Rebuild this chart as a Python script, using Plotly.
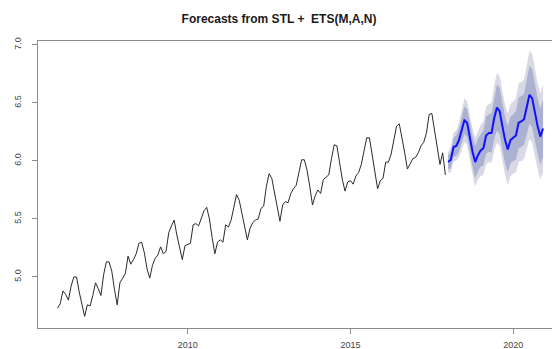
import plotly.graph_objects as go

# Historical monthly series, Jan 2006 .. Dec 2017
hist_start = 2006
hist_values = [
    4.73, 4.77, 4.88, 4.85, 4.80, 4.92, 5.00, 5.00, 4.87, 4.76, 4.66, 4.76,
    4.75, 4.84, 4.95, 4.90, 4.84, 5.02, 5.13, 5.13, 5.05, 4.89, 4.76, 4.95,
    4.99, 5.03, 5.18, 5.11, 5.15, 5.20, 5.29, 5.30, 5.21, 5.07, 4.99, 5.10,
    5.16, 5.19, 5.26, 5.20, 5.22, 5.38, 5.44, 5.49, 5.36, 5.24, 5.15, 5.27,
    5.28, 5.29, 5.45, 5.46, 5.44, 5.51, 5.57, 5.60, 5.50, 5.34, 5.20, 5.30,
    5.32, 5.30, 5.45, 5.43, 5.49, 5.60, 5.71, 5.66, 5.55, 5.44, 5.32, 5.42,
    5.47, 5.49, 5.50, 5.59, 5.61, 5.78, 5.89, 5.85, 5.72, 5.58, 5.48, 5.62,
    5.65, 5.64, 5.72, 5.76, 5.79, 5.90, 6.01, 6.01, 5.92, 5.78, 5.62, 5.70,
    5.75, 5.72, 5.84, 5.86, 5.88, 6.02, 6.14, 6.13, 5.97, 5.84, 5.74, 5.82,
    5.83, 5.80, 5.87, 5.90, 5.97, 6.10, 6.20, 6.20, 6.05, 5.88, 5.76, 5.83,
    5.85, 5.99, 5.99, 6.06, 6.19, 6.30, 6.32, 6.21, 6.07, 5.93, 5.97, 6.02,
    6.03, 6.07, 6.13, 6.16, 6.24, 6.40, 6.41, 6.25, 6.10, 5.97, 6.07, 5.88,
]

# Forecast, Jan 2018 .. Dec 2020
fc_start = 2018
fc_mean = [5.99, 6.01, 6.12, 6.13, 6.18, 6.27, 6.35, 6.33, 6.20, 6.08, 5.99, 6.05,
           6.09, 6.11, 6.22, 6.24, 6.24, 6.37, 6.46, 6.43, 6.30, 6.18, 6.10, 6.18,
           6.20, 6.22, 6.33, 6.34, 6.36, 6.46, 6.57, 6.54, 6.41, 6.30, 6.21, 6.28]
lo95 = [5.90, 5.90, 6.00, 6.00, 6.03, 6.10, 6.16, 6.14, 6.01, 5.88, 5.78, 5.84,
        5.87, 5.88, 5.97, 5.99, 5.98, 6.09, 6.16, 6.13, 6.01, 5.88, 5.79, 5.87,
        5.89, 5.90, 5.99, 6.00, 6.02, 6.10, 6.19, 6.16, 6.04, 5.93, 5.84, 5.90]
hi95 = [6.08, 6.12, 6.24, 6.26, 6.33, 6.44, 6.54, 6.52, 6.39, 6.28, 6.20, 6.26,
        6.31, 6.34, 6.47, 6.49, 6.50, 6.65, 6.76, 6.73, 6.59, 6.48, 6.41, 6.49,
        6.51, 6.54, 6.67, 6.68, 6.70, 6.82, 6.95, 6.92, 6.78, 6.67, 6.58, 6.66]
lo80 = [5.93, 5.94, 6.04, 6.04, 6.08, 6.16, 6.23, 6.21, 6.08, 5.95, 5.85, 5.91,
        5.95, 5.96, 6.06, 6.08, 6.07, 6.19, 6.26, 6.23, 6.11, 5.98, 5.90, 5.98,
        6.00, 6.01, 6.11, 6.12, 6.14, 6.23, 6.32, 6.29, 6.17, 6.06, 5.97, 6.03]
hi80 = [6.05, 6.08, 6.20, 6.22, 6.28, 6.38, 6.47, 6.45, 6.32, 6.21, 6.13, 6.19,
        6.23, 6.26, 6.38, 6.40, 6.41, 6.55, 6.66, 6.63, 6.49, 6.38, 6.30, 6.38,
        6.40, 6.43, 6.55, 6.56, 6.58, 6.69, 6.82, 6.79, 6.65, 6.54, 6.45, 6.53]

x_ticks = [2010, 2015, 2020]
y_ticks = [5.0, 5.5, 6.0, 6.5, 7.0]
title = "Forecasts from STL +  ETS(M,A,N)"

t_hist = [hist_start + i / 12 for i in range(len(hist_values))]
t_fc = [fc_start + j / 12 for j in range(len(fc_mean))]

FONT = "Arial, 'Liberation Sans', sans-serif"
AXIS = "#8c8c8c"
OFF = 8  # page body margin offset compensation

fig = go.Figure()
fig.add_trace(go.Scatter(x=t_fc + t_fc[::-1], y=hi95 + lo95[::-1], fill="toself",
                         fillcolor="#D8D9E5", line=dict(width=0), mode="lines",
                         hoverinfo="skip", showlegend=False))
fig.add_trace(go.Scatter(x=t_fc + t_fc[::-1], y=hi80 + lo80[::-1], fill="toself",
                         fillcolor="#ABB1D1", line=dict(width=0), mode="lines",
                         hoverinfo="skip", showlegend=False))
fig.add_trace(go.Scatter(x=t_hist, y=hist_values, mode="lines",
                         line=dict(color="#2a2a2a", width=1), showlegend=False))
fig.add_trace(go.Scatter(x=t_fc, y=fc_mean, mode="lines",
                         line=dict(color="#1010FF", width=2), showlegend=False))

fig.update_layout(
    width=560, height=349,
    margin=dict(l=34 - OFF, r=5, t=41 - OFF, b=349 - (328 - OFF)),
    paper_bgcolor="white", plot_bgcolor="white",
    title=dict(text="<b>" + title + "</b>", x=(279 - OFF) / 560, xanchor="center",
               y=1 - (19 - OFF) / 349, yanchor="middle",
               font=dict(family=FONT, size=12, color="#1a1a1a")),
    font=dict(family=FONT, size=9, color="#444444"),
    xaxis=dict(range=[2005.40, 2021.53], tickvals=x_ticks,
               ticktext=[str(v) for v in x_ticks],
               showgrid=False, zeroline=False, showline=True, linecolor=AXIS,
               linewidth=1, mirror=True, ticks="outside", ticklen=5,
               tickcolor=AXIS, ticklabelstandoff=3,
               tickfont=dict(size=9, color="#444444")),
    yaxis=dict(range=[4.56, 7.034], tickvals=y_ticks,
               ticktext=["%.1f" % v for v in y_ticks],
               showgrid=False, zeroline=False, showline=True, linecolor=AXIS,
               linewidth=1, ticks="outside", ticklen=5, tickcolor=AXIS,
               tickangle=-90, ticklabelstandoff=7,
               tickfont=dict(size=9, color="#444444")),
)

fig.write_html("out.html")
